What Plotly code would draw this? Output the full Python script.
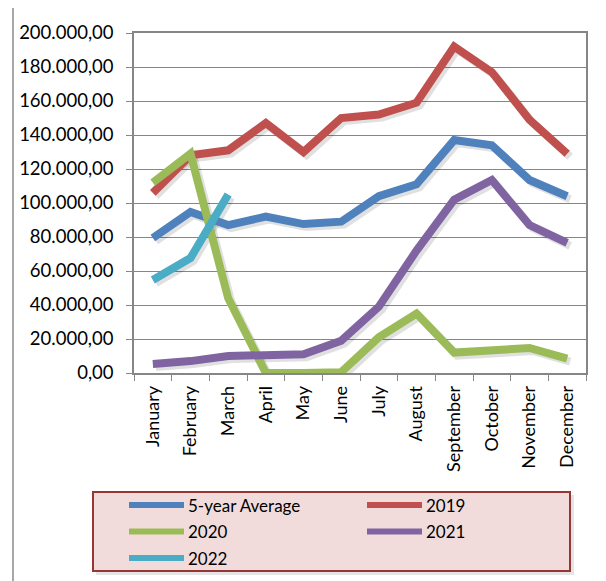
import plotly.graph_objects as go

months = ["January", "February", "March", "April", "May", "June", "July",
          "August", "September", "October", "November", "December"]
avg5 = [79400, 94700, 87000, 92000, 87600, 89000, 104000, 111000, 137000, 134000, 113500, 104000]
y2019 = [106000, 128000, 131000, 147000, 130000, 150000, 152000, 159000, 192000, 177000, 149000, 129000]
y2020 = [112000, 129000, 44000, 0, 0, 500, 21000, 35000, 12000, 13500, 14700, 8500]
y2021 = [5300, 7000, 10000, 11000, 11000, 19000, 39000, 72000, 102000, 113500, 87000, 76500]
y2022 = [54700, 67600, 105000]
series_names = ["5-year Average", "2019", "2020", "2021", "2022"]
series_values = [avg5, y2019, y2020, y2021, y2022]
colors = ["#4F81BD", "#C0504D", "#9BBB59", "#8064A2", "#4BACC6"]
y_ticks = [0, 20000, 40000, 60000, 80000, 100000, 120000, 140000, 160000, 180000, 200000]

# page has an 8px body margin; work in reference pixel coords and shift
OFF = 8
W, H = 606 - OFF, 581 - OFF
L, R, T, B = 134 - OFF, 586 - OFF, 33 - OFF, 373 - OFF
PW, PH = R - L, B - T


def px_x(p):
    return (p - OFF - L) / PW


def px_y(p):
    return (B - (p - OFF)) / PH


fig = go.Figure()

# dummy trace on main axes to establish categories
fig.add_trace(go.Scatter(x=months, y=[None] * 12, showlegend=False, hoverinfo="skip",
                         xaxis="x", yaxis="y"))

# shadows
for name, vals in zip(series_names, series_values):
    fig.add_trace(go.Scatter(x=months[:len(vals)], y=vals, mode="lines",
                             line=dict(color="rgba(0,0,0,0.12)", width=8),
                             showlegend=False, hoverinfo="skip",
                             xaxis="x2", yaxis="y2"))
# main lines
for name, vals, c in zip(series_names, series_values, colors):
    fig.add_trace(go.Scatter(x=months[:len(vals)], y=vals, mode="lines", name=name,
                             line=dict(color=c, width=8), showlegend=False,
                             xaxis="x3", yaxis="y3"))

font = dict(family="Lato", size=18, color="#000000")
grid = "#868686"
cat_px = PW / 12
dx = 3 / cat_px
dy = 3 * 200000 / PH

fig.update_layout(
    width=W, height=H,
    margin=dict(l=L, r=W - R, t=T, b=H - B, autoexpand=False),
    paper_bgcolor="white", plot_bgcolor="white",
    separators=",.",
    font=font,
    showlegend=False,
    xaxis=dict(type="category", categoryorder="array", categoryarray=months,
               range=[-0.5, 11.5], tickangle=-90, ticks="outside", ticklen=6,
               tickcolor=grid, tickwidth=1.3, tickson="boundaries",
               showline=True, linecolor=grid, linewidth=1.5, mirror=True,
               showgrid=False, tickfont=font, ticklabelstandoff=4, fixedrange=True),
    yaxis=dict(range=[0, 200000], tickvals=y_ticks, tickformat=",.2f",
               ticks="outside", ticklen=6, tickcolor=grid, tickwidth=1.3,
               showline=True, linecolor=grid, linewidth=1.5, mirror=True,
               showgrid=True, gridcolor=grid, gridwidth=1.3, zeroline=False,
               tickfont=dict(family="Lato", size=18.5, color="#000000"),
               ticklabelstandoff=9, fixedrange=True),
    xaxis2=dict(type="category", categoryorder="array", categoryarray=months,
                range=[-0.5 - dx, 11.5 - dx], overlaying="x", visible=False),
    yaxis2=dict(range=[dy, 200000 + dy], overlaying="y", visible=False),
    xaxis3=dict(type="category", categoryorder="array", categoryarray=months,
                range=[-0.5, 11.5], overlaying="x", visible=False),
    yaxis3=dict(range=[0, 200000], overlaying="y", visible=False),
)

shapes = []
# outer frame
shapes.append(dict(type="rect", xref="paper", yref="paper",
                   x0=px_x(13), x1=px_x(640), y0=px_y(620), y1=px_y(4),
                   line=dict(color="#8A8A8A", width=1.5), fillcolor="rgba(0,0,0,0)",
                   layer="below"))
# legend shadow
shapes.append(dict(type="rect", xref="paper", yref="paper",
                   x0=px_x(96), x1=px_x(574), y0=px_y(575), y1=px_y(495),
                   line=dict(width=0), fillcolor="rgba(0,0,0,0.10)"))
# legend box
shapes.append(dict(type="rect", xref="paper", yref="paper",
                   x0=px_x(93), x1=px_x(570), y0=px_y(571), y1=px_y(492),
                   line=dict(color="#953735", width=2), fillcolor="#F2DCDB"))

annotations = []
leg_pos = [(129, 505), (367, 505), (129, 531.5), (367, 531.5), (129, 558)]
for (lx, ly), name, c in zip(leg_pos, series_names, colors):
    shapes.append(dict(type="line", xref="paper", yref="paper",
                       x0=px_x(lx), x1=px_x(lx + 55), y0=px_y(ly), y1=px_y(ly),
                       line=dict(color=c, width=6)))
    annotations.append(dict(xref="paper", yref="paper", x=px_x(lx + 57), y=px_y(ly),
                            text=name, showarrow=False, xanchor="left", yanchor="middle",
                            font=dict(family="Lato", size=17, color="#000000")))

fig.update_layout(shapes=shapes, annotations=annotations)

fig.write_html("out.html")
